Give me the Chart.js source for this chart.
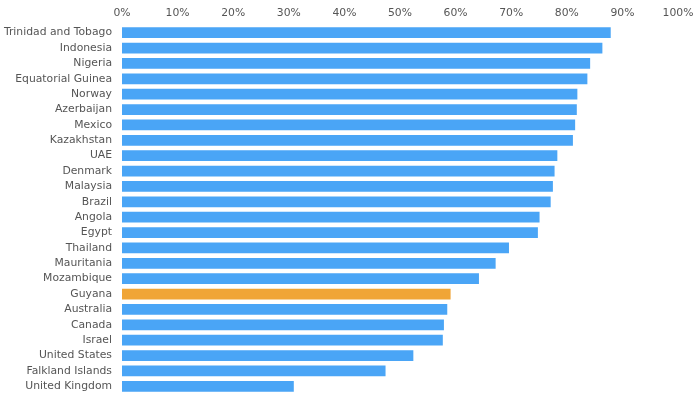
<!DOCTYPE html>
<html>
<head>
<meta charset="utf-8">
<script src="https://cdn.jsdelivr.net/npm/chart.js@4"></script>
<style>
  html, body { margin: 0; padding: 0; background: #fff; overflow: hidden; }
  canvas { display: block; }
</style>
</head>
<body>
<canvas id="chart" width="700" height="394"></canvas>
<script>
// land og andel
const countries = [
    "Trinidad and Tobago", "Indonesia", "Nigeria", "Equatorial Guinea", "Norway",
    "Azerbaijan", "Mexico", "Kazakhstan", "UAE", "Denmark", "Malaysia", "Brazil",
    "Angola", "Egypt", "Thailand", "Mauritania", "Mozambique", "Guyana",
    "Australia", "Canada", "Israel", "United States", "Falkland Islands", "United Kingdom"
];
const shares = [
    87.9, 86.4, 84.2, 83.7, 81.9, 81.8, 81.5, 81.1, 78.3, 77.8, 77.5, 77.1,
    75.1, 74.8, 69.6, 67.2, 64.2, 59.1, 58.5, 57.9, 57.7, 52.4, 47.4, 30.9
];
const highlight = "Guyana";

const blue = "#4aa5f6";
const orange = "#f0a536";

new Chart(document.getElementById("chart"), {
    type: "bar",
    data: {
        labels: countries,
        datasets: [{
            data: shares,
            backgroundColor: countries.map(c => c === highlight ? orange : blue),
            barPercentage: 0.7,
            categoryPercentage: 1
        }]
    },
    options: {
        indexAxis: "y",
        responsive: false,
        animation: false,
        layout: { padding: { top: 0, right: 22, bottom: 0, left: 0 } },
        plugins: { legend: { display: false }, tooltip: { enabled: false } },
        scales: {
            x: {
                position: "top",
                min: 0,
                max: 100,
                grid: { display: false, tickLength: 0 },
                border: { display: false },
                ticks: {
                    stepSize: 10,
                    color: "#555",
                    padding: 5,
                    font: { family: "DejaVu Sans", size: 10.8 },
                    callback: v => v + "%"
                },
                afterFit: s => { s.height = 25; }
            },
            y: {
                grid: { display: false, tickLength: 0 },
                border: { display: false },
                ticks: {
                    color: "#555",
                    padding: 10,
                    autoSkip: false,
                    font: { family: "DejaVu Sans", size: 10.8 }
                },
                afterFit: s => {
                    s.width = 122;
                    s.paddingTop = 0;
                    s.paddingBottom = 0;
                }
            }
        }
    }
});
</script>
</body>
</html>
